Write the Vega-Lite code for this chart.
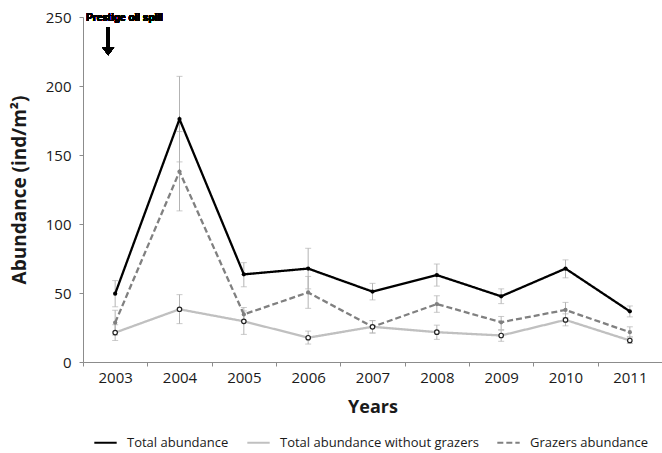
{
  "$schema": "https://vega.github.io/schema/vega-lite/v6.json",
  "autosize": "none",
  "width": 579,
  "height": 345,
  "padding": {"left": 83, "top": 17, "right": 0, "bottom": 91},
  "background": "white",
  "data": {
    "values": [
      {"year": "2003", "series": "Total abundance", "value": 49.5, "lo": 40, "hi": 59},
      {"year": "2004", "series": "Total abundance", "value": 176, "lo": 145, "hi": 207},
      {"year": "2005", "series": "Total abundance", "value": 63.5, "lo": 54.5, "hi": 72},
      {"year": "2006", "series": "Total abundance", "value": 67.7, "lo": 53, "hi": 82.4},
      {"year": "2007", "series": "Total abundance", "value": 51, "lo": 45, "hi": 57},
      {"year": "2008", "series": "Total abundance", "value": 63, "lo": 55, "hi": 71},
      {"year": "2009", "series": "Total abundance", "value": 47.6, "lo": 42.3, "hi": 53},
      {"year": "2010", "series": "Total abundance", "value": 67.7, "lo": 61, "hi": 74},
      {"year": "2011", "series": "Total abundance", "value": 36.7, "lo": 32.7, "hi": 40.6},
      {"year": "2003", "series": "Total abundance without grazers", "value": 21.3, "lo": 15.6, "hi": 27},
      {"year": "2004", "series": "Total abundance without grazers", "value": 38.2, "lo": 27.8, "hi": 48.8},
      {"year": "2005", "series": "Total abundance without grazers", "value": 29.5, "lo": 20, "hi": 37},
      {"year": "2006", "series": "Total abundance without grazers", "value": 17.6, "lo": 13, "hi": 22.4},
      {"year": "2007", "series": "Total abundance without grazers", "value": 25.5, "lo": 21, "hi": 30},
      {"year": "2008", "series": "Total abundance without grazers", "value": 21.6, "lo": 16.4, "hi": 26.7},
      {"year": "2009", "series": "Total abundance without grazers", "value": 19.2, "lo": 15, "hi": 23},
      {"year": "2010", "series": "Total abundance without grazers", "value": 30.5, "lo": 26.2, "hi": 34.9},
      {"year": "2011", "series": "Total abundance without grazers", "value": 15.6, "lo": 13.4, "hi": 18.4},
      {"year": "2003", "series": "Grazers abundance", "value": 28.5, "lo": 19.5, "hi": 37.5},
      {"year": "2004", "series": "Grazers abundance", "value": 138, "lo": 109.5, "hi": 167},
      {"year": "2005", "series": "Grazers abundance", "value": 34.5, "lo": 29.5, "hi": 39.5},
      {"year": "2006", "series": "Grazers abundance", "value": 50.4, "lo": 38.9, "hi": 62},
      {"year": "2007", "series": "Grazers abundance", "value": 25.5, "lo": 21, "hi": 30},
      {"year": "2008", "series": "Grazers abundance", "value": 42, "lo": 36, "hi": 48},
      {"year": "2009", "series": "Grazers abundance", "value": 28.8, "lo": 23.5, "hi": 33},
      {"year": "2010", "series": "Grazers abundance", "value": 37.7, "lo": 32, "hi": 43.2},
      {"year": "2011", "series": "Grazers abundance", "value": 21.6, "lo": 17.5, "hi": 25.5}
    ]
  },
  "layer": [
    {
      "mark": {"type": "errorbar", "ticks": {"size": 6, "color": "#b3b3b3", "strokeWidth": 1}, "rule": {"color": "#b3b3b3", "strokeWidth": 1}},
      "encoding": {
        "x": {"field": "year", "type": "ordinal", "bandPosition": 0.5, "title": "Years"},
        "y": {"field": "lo", "type": "quantitative", "title": "Abundance (ind/m²)", "axis": {"values": [0, 50, 100, 150, 200, 250]}},
        "y2": {"field": "hi"},
        "detail": {"field": "series"}
      }
    },
    {
      "mark": {"type": "line", "strokeWidth": 2.3},
      "encoding": {
        "x": {"field": "year", "type": "ordinal", "bandPosition": 0.5, "title": "Years"},
        "y": {"field": "value", "type": "quantitative", "title": "Abundance (ind/m²)", "scale": {"domain": [0, 250], "nice": false}, "axis": {"values": [0, 50, 100, 150, 200, 250]}},
        "color": {
          "field": "series", "type": "nominal",
          "scale": {"domain": ["Total abundance", "Total abundance without grazers", "Grazers abundance"], "range": ["#000000", "#c0c0c0", "#808080"]},
          "legend": {
            "orient": "none", "legendX": 10, "legendY": 413, "direction": "horizontal", "title": null,
            "symbolType": "stroke", "symbolSize": 500, "symbolStrokeWidth": 2,
            "labelFont": "Open Sans", "labelFontSize": 13, "labelColor": "#1a1a1a", "labelLimit": 0,
            "labelOffset": 9, "columnPadding": 14
          }
        },
        "strokeDash": {
          "field": "series", "type": "nominal",
          "scale": {"domain": ["Total abundance", "Total abundance without grazers", "Grazers abundance"], "range": [[1, 0], [1, 0], [6, 3]]},
          "legend": {
            "orient": "none", "legendX": 10, "legendY": 413, "direction": "horizontal", "title": null,
            "symbolType": "stroke", "symbolSize": 500, "symbolStrokeWidth": 2,
            "labelFont": "Open Sans", "labelFontSize": 13, "labelColor": "#1a1a1a", "labelLimit": 0,
            "labelOffset": 9, "columnPadding": 14
          }
        }
      }
    },
    {
      "transform": [{"filter": "datum.series !== 'Total abundance without grazers'"}],
      "mark": {"type": "circle", "size": 18, "opacity": 1},
      "encoding": {
        "x": {"field": "year", "type": "ordinal", "bandPosition": 0.5},
        "y": {"field": "value", "type": "quantitative"},
        "color": {"field": "series", "type": "nominal"}
      }
    },
    {
      "transform": [{"filter": "datum.series === 'Total abundance without grazers'"}],
      "mark": {"type": "circle", "size": 20, "fill": "white", "stroke": "#222222", "strokeWidth": 1.2, "opacity": 1},
      "encoding": {
        "x": {"field": "year", "type": "ordinal", "bandPosition": 0.5},
        "y": {"field": "value", "type": "quantitative"}
      }
    },
    {
      "mark": {"type": "text", "text": "Prestige oil spill", "font": "Liberation Sans", "fontWeight": "bold", "fontSize": 10, "align": "left", "baseline": "middle", "dx": -29, "fill": "#000000"},
      "encoding": {
        "x": {"datum": "2003", "type": "ordinal", "bandPosition": 0.5},
        "y": {"datum": 249, "type": "quantitative"}
      }
    },
    {
      "mark": {"type": "point", "shape": "M-0.62,-1H-0.38V0.43H-0.07L-0.5,1L-0.93,0.43H-0.62Z", "size": 784, "filled": true, "color": "#000000", "opacity": 1},
      "encoding": {
        "x": {"datum": "2003", "type": "ordinal", "bandPosition": 0.5},
        "y": {"datum": 232.5, "type": "quantitative"}
      }
    }
  ],
  "config": {
    "view": {"stroke": null},
    "scale": {"bandPaddingInner": 0, "bandPaddingOuter": 0},
    "axis": {
      "grid": false,
      "domainColor": "#8c8c8c",
      "tickColor": "#8c8c8c",
      "tickSize": 4,
      "labelFont": "Open Sans",
      "labelFontSize": 15,
      "labelColor": "#1a1a1a",
      "titleFont": "Open Sans",
      "titleFontWeight": "bold",
      "titleColor": "#1a1a1a"
    },
    "axisX": {
      "labelAngle": 0,
      "tickBand": "extent",
      "labelPadding": 4,
      "titleFontSize": 18,
      "titlePadding": 13
    },
    "axisY": {
      "labelPadding": 8,
      "titleFontSize": 19,
      "titlePadding": 16
    }
  }
}
